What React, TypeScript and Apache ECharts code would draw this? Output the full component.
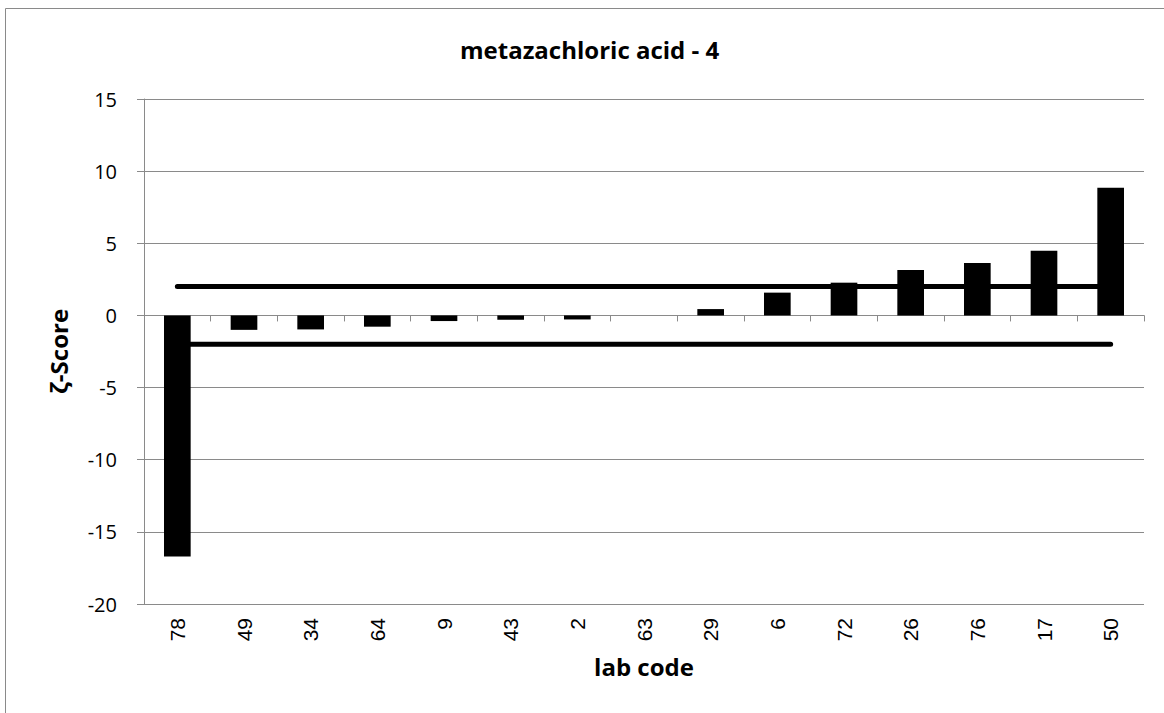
import React, { useEffect, useRef } from "react";
import * as echarts from "echarts";

const labCodes = ["78", "49", "34", "64", "9", "43", "2", "63", "29", "6", "72", "26", "76", "17", "50"];
const zetaScores = [-16.7, -1.0, -0.97, -0.78, -0.39, -0.3, -0.28, 0, 0.44, 1.58, 2.27, 3.14, 3.64, 4.49, 8.85];
const upperLimit = labCodes.map(() => 2);
const lowerLimit = labCodes.map(() => -2);
const yTicks = { min: -20, max: 15, interval: 5 };

const titleText = "metazachloric acid - 4";
const xName = "lab code";
const yName = "ζ-Score";

const GREY = "#8a8a8a";

export default function App() {
  const ref = useRef<HTMLDivElement>(null);
  useEffect(() => {
    if (!ref.current) return;
    const chart = echarts.init(ref.current, undefined, { renderer: "svg" });
    chart.setOption({
      animation: false,
      backgroundColor: "#ffffff",
      title: {
        text: titleText,
        left: 460,
        top: 37,
        padding: 0,
        textStyle: { fontFamily: "Open Sans", fontWeight: "bold", fontSize: 24, color: "#000" },
      },
      graphic: [
        {
          type: "rect",
          shape: { x: 5.5, y: 8.5, width: 1200, height: 800 },
          style: { fill: "none", stroke: GREY, lineWidth: 1 },
          silent: true,
        },
      ],
      grid: { left: 144, right: 20, top: 99, bottom: 109 },
      xAxis: [
        {
          type: "category",
          data: labCodes,
          position: "bottom",
          axisLine: { show: true, onZero: true, lineStyle: { color: GREY, width: 1 } },
          axisTick: { show: true, length: 6, interval: 0, lineStyle: { color: GREY } },
          axisLabel: { show: false },
          splitLine: { show: false },
        },
        {
          type: "category",
          data: labCodes,
          position: "bottom",
          axisLine: { show: false, onZero: false },
          axisTick: { show: false },
          axisLabel: {
            show: true,
            rotate: 90,
            interval: 0,
            margin: 14,
            fontFamily: "Liberation Sans",
            fontSize: 21,
            color: "#000",
          },
          splitLine: { show: false },
          name: xName,
          nameLocation: "middle",
          nameGap: 50,
          nameTextStyle: { fontFamily: "Open Sans", fontWeight: "bold", fontSize: 24, color: "#000" },
        },
      ],
      yAxis: {
        type: "value",
        min: yTicks.min,
        max: yTicks.max,
        interval: yTicks.interval,
        axisLine: { show: true, lineStyle: { color: GREY, width: 1 } },
        axisTick: { show: true, length: 7, lineStyle: { color: GREY } },
        axisLabel: { margin: 27, fontFamily: "Open Sans", fontSize: 20, color: "#000" },
        splitLine: { show: true, lineStyle: { color: GREY, width: 1 } },
        name: yName,
        nameLocation: "middle",
        nameGap: 74,
        nameRotate: 90,
        nameTextStyle: { fontFamily: "Open Sans", fontWeight: "bold", fontSize: 24, color: "#000" },
      },
      series: [
        {
          type: "line",
          data: upperLimit,
          xAxisIndex: 0,
          symbol: "none",
          lineStyle: { color: "#000", width: 5, cap: "round" },
          z: 2,
        },
        {
          type: "line",
          data: lowerLimit,
          xAxisIndex: 0,
          symbol: "none",
          lineStyle: { color: "#000", width: 5, cap: "round" },
          z: 2,
        },
        {
          type: "bar",
          data: zetaScores,
          xAxisIndex: 0,
          barWidth: "40%",
          itemStyle: { color: "#000" },
          z: 3,
        },
      ],
    });
    return () => chart.dispose();
  }, []);
  return (
    <div
      ref={ref}
      style={{ position: "fixed", left: 0, top: 0, width: 1164, height: 713 }}
    />
  );
}
